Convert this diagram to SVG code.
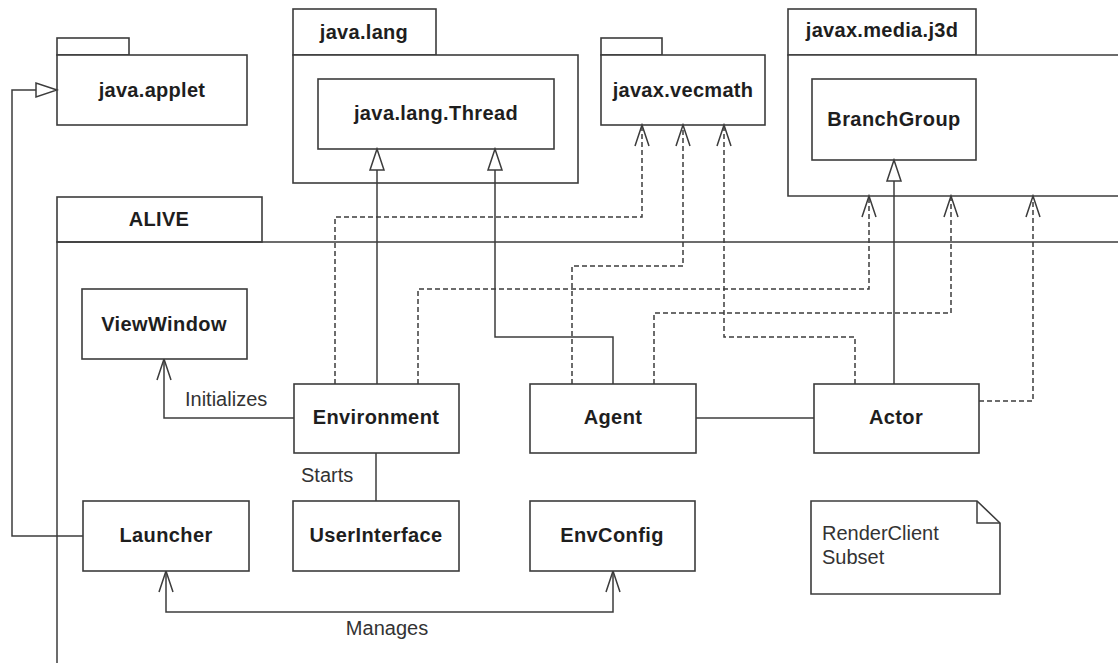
<svg xmlns="http://www.w3.org/2000/svg" width="1118" height="663" viewBox="0 0 1118 663">
  <style>
    .shape { fill: #ffffff; stroke: #3c3c3c; stroke-width: 1.6; }
    .line { fill: none; stroke: #3c3c3c; stroke-width: 1.5; }
    .dash { fill: none; stroke: #3c3c3c; stroke-width: 1.5; stroke-dasharray: 5 3; }
    .name { font-family: "Liberation Sans", Arial, sans-serif; font-size: 20px; font-weight: bold; letter-spacing: 0.4px; fill: #1e1e1e; text-anchor: middle; }
    .pkg { font-family: "Liberation Sans", Arial, sans-serif; font-size: 20px; font-weight: bold; letter-spacing: 0.3px; fill: #1e1e1e; text-anchor: middle; }
    .label { font-family: "Liberation Sans", Arial, sans-serif; font-size: 20px; fill: #333333; }
  </style>
  <defs>
    <!-- hollow triangle for generalization -->
    <marker id="gen" markerUnits="userSpaceOnUse" markerWidth="24" markerHeight="18" viewBox="-22 -9 24 18" refX="0" refY="0" orient="auto">
      <path d="M0,0 L-21,-7 L-21,7 Z" fill="#ffffff" stroke="#3c3c3c" stroke-width="1.5"/>
    </marker>
    <!-- open arrowhead for dependencies and navigable associations -->
    <marker id="open" markerUnits="userSpaceOnUse" markerWidth="24" markerHeight="18" viewBox="-22 -9 24 18" refX="0" refY="0" orient="auto">
      <path d="M-21,-7 L0,0 L-21,7" fill="none" stroke="#3c3c3c" stroke-width="1.5"/>
    </marker>
    <marker id="openStart" markerUnits="userSpaceOnUse" markerWidth="24" markerHeight="18" viewBox="-2 -9 24 18" refX="0" refY="0" orient="auto">
      <path d="M21,-7 L0,0 L21,7" fill="none" stroke="#3c3c3c" stroke-width="1.5"/>
    </marker>
  </defs>

  <rect width="1118" height="663" fill="#ffffff"/>

  <!-- external packages -->
  <g id="pkg-java-applet">
    <rect class="shape" x="57" y="38" width="72" height="17"/>
    <rect class="shape" x="57" y="55" width="190" height="70"/>
    <text class="pkg" x="152" y="97">java.applet</text>
  </g>

  <g id="pkg-java-lang">
    <rect class="shape" x="293" y="9" width="143" height="46"/>
    <rect class="shape" x="293" y="55" width="285" height="128"/>
    <text class="pkg" x="364" y="39">java.lang</text>
  </g>
  <g id="cls-thread">
    <rect class="shape" x="318" y="79" width="236" height="70"/>
    <text class="name" x="436" y="120">java.lang.Thread</text>
  </g>

  <g id="pkg-javax-vecmath">
    <rect class="shape" x="601" y="38" width="61" height="17"/>
    <rect class="shape" x="601" y="55" width="164" height="70"/>
    <text class="pkg" x="683" y="97">javax.vecmath</text>
  </g>

  <g id="pkg-javax-media-j3d">
    <rect class="shape" x="788" y="9" width="188" height="46"/>
    <path class="shape" d="M1120,55 H788 V196 H1120"/>
    <text class="pkg" x="882" y="37">javax.media.j3d</text>
  </g>
  <g id="cls-branchgroup">
    <rect class="shape" x="812" y="79" width="164" height="81"/>
    <text class="name" x="894" y="126">BranchGroup</text>
  </g>

  <!-- ALIVE package -->
  <g id="pkg-alive">
    <rect class="shape" x="57" y="197" width="205" height="45"/>
    <path class="line" d="M1120,242 H57 V665"/>
    <text class="pkg" x="159" y="226">ALIVE</text>
  </g>

  <!-- connectors -->
  <g id="connectors">
    <!-- Launcher extends Applet -->
    <path class="line" d="M83,536 H12 V90 H57" marker-end="url(#gen)"/>
    <!-- Environment / Agent extend Thread -->
    <path class="line" d="M377,384 V149" marker-end="url(#gen)"/>
    <path class="line" d="M613,384 V337 H495 V149" marker-end="url(#gen)"/>
    <!-- Actor extends BranchGroup -->
    <path class="line" d="M894,384 V160" marker-end="url(#gen)"/>

    <!-- dependencies on javax.vecmath -->
    <path class="dash" d="M335,384 V217 H642 V125" marker-end="url(#open)"/>
    <path class="dash" d="M572,384 V266 H683 V125" marker-end="url(#open)"/>
    <path class="dash" d="M855,384 V337 H724 V125" marker-end="url(#open)"/>

    <!-- dependencies on javax.media.j3d -->
    <path class="dash" d="M418,384 V289 H869 V196" marker-end="url(#open)"/>
    <path class="dash" d="M654,384 V313 H951 V196" marker-end="url(#open)"/>
    <path class="dash" d="M979,401 H1033 V196" marker-end="url(#open)"/>

    <!-- associations -->
    <path class="line" d="M294,418 H164 V359" marker-end="url(#open)"/>
    <path class="line" d="M376,453 V501"/>
    <path class="line" d="M696,418 H814"/>
    <path class="line" d="M166,571 V612 H613 V571" marker-start="url(#openStart)" marker-end="url(#open)"/>

    <text class="label" x="185" y="406">Initializes</text>
    <text class="label" x="301" y="482">Starts</text>
    <text class="label" x="387" y="635" text-anchor="middle">Manages</text>
  </g>

  <!-- ALIVE classes -->
  <g id="cls-viewwindow">
    <rect class="shape" x="82" y="289" width="165" height="70"/>
    <text class="name" x="164" y="331">ViewWindow</text>
  </g>
  <g id="cls-environment">
    <rect class="shape" x="294" y="384" width="165" height="69"/>
    <text class="name" x="376" y="424">Environment</text>
  </g>
  <g id="cls-agent">
    <rect class="shape" x="530" y="384" width="166" height="69"/>
    <text class="name" x="613" y="424">Agent</text>
  </g>
  <g id="cls-actor">
    <rect class="shape" x="814" y="384" width="165" height="69"/>
    <text class="name" x="896" y="424">Actor</text>
  </g>
  <g id="cls-launcher">
    <rect class="shape" x="83" y="501" width="166" height="70"/>
    <text class="name" x="166" y="542">Launcher</text>
  </g>
  <g id="cls-userinterface">
    <rect class="shape" x="293" y="501" width="166" height="70"/>
    <text class="name" x="376" y="542">UserInterface</text>
  </g>
  <g id="cls-envconfig">
    <rect class="shape" x="530" y="501" width="165" height="70"/>
    <text class="name" x="612" y="542">EnvConfig</text>
  </g>

  <!-- note -->
  <g id="note-renderclient">
    <path class="shape" d="M811,501 H977 L1000,523 V594 H811 Z"/>
    <path class="line" d="M977,501 V523 H1000"/>
    <text class="label" x="822" y="540">RenderClient</text>
    <text class="label" x="822" y="564">Subset</text>
  </g>
</svg>
